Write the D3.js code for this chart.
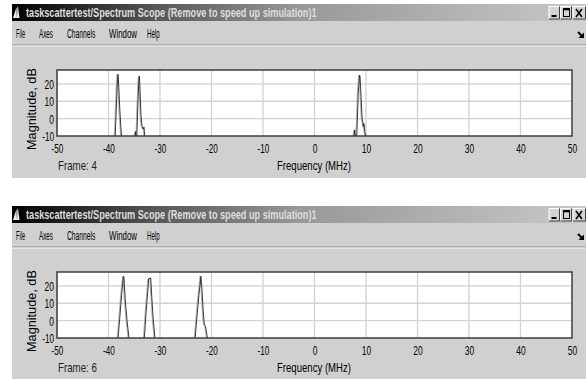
<!DOCTYPE html>
<html><head><meta charset="utf-8">
<script src="https://cdn.jsdelivr.net/npm/d3@7"></script>
<style>html,body{margin:0;padding:0;background:#fff;overflow:hidden}</style>
</head><body><svg id="c" width="586" height="379"></svg>
<script>
// ---------------- data ----------------
const windowTitle = "taskscattertest/Spectrum Scope (Remove to speed up simulation)1";
const menuItems = ["File", "Axes", "Channels", "Window", "Help"];
const freqTicks = [-50, -40, -30, -20, -10, 0, 10, 20, 30, 40, 50];
const magTicks = [-10, 0, 10, 20];
const xLabel = "Frequency (MHz)";
const yLabel = "Magnitude, dB";
const frameLabels = ["Frame: 4", "Frame: 6"];

const frame4Freq = [-50, -38.8, -38.7, -38.5, -38.3, -38.15, -38.0, -37.8, -37.6, -37.45, -37.3,
  -35.0, -34.85, -34.75, -34.65, -34.5, -34.3, -34.1, -34.0, -33.85, -33.7, -33.55, -33.45, -33.25, -33.1, -32.95, -32.8,
  7.5, 7.65, 7.8, 7.95, 8.2, 8.5, 8.75, 8.85, 9.05, 9.25, 9.4, 9.5, 9.6, 9.8, 10.0, 10.1, 50];
const frame4Mag = [-30, -30, -10.5, 5, 20, 25.5, 18, 5, -5, -10.5, -30,
  -30, -10.5, -7.5, -10.5, -10.5, 8, 22, 24.5, 15, 2, -3, -4.5, -6, -5, -10.5, -30,
  -30, -10.5, -6.5, -10.5, -10.5, 15, 25, 24, 12, 0, -2, -4.5, -3, -8, -10.5, -30, -30];

const frame6Freq = [-50, -38.3, -38.15, -37.8, -37.45, -37.1, -37.0, -36.75, -36.4, -36.0, -35.85,
  -33.2, -33.05, -32.7, -32.4, -32.2, -31.8, -31.6, -31.35, -30.97, -30.8,
  -23.4, -23.2, -22.8, -22.45, -22.05, -21.85, -21.6, -21.4, -21.15, -20.9, -20.8, -20.6, 50];
const frame6Mag = [-30, -30, -10.5, 2, 15, 25.5, 25, 12, 0, -10.5, -30,
  -30, -10.5, 5, 16, 24, 24.5, 14, 2, -10.5, -30,
  -30, -10.5, 3, 14.5, 25.5, 18, 5, -2, -3.5, -8, -10.5, -30, -30];

// ---------------- layout ----------------
const winOffsets = [0, 202];
const plot = {x0: 57, x1: 572, y0: 70, y1: 136};
const menuX = [16, 39, 67, 109, 147];
const menuW = [9, 14, 28.3, 28, 12.6];
const FONT = "'Liberation Sans', Arial, sans-serif";

const svg = d3.select('#c');
const defs = svg.append('defs');
const grad = defs.append('linearGradient').attr('id', 'tb')
  .attr('x1', 0).attr('x2', 1).attr('y1', 0).attr('y2', 0);
[[0, '#000000'], [0.25, '#575757'], [0.5, '#989898'], [1, '#c8c8c8']]
  .forEach(([o, c]) => grad.append('stop').attr('offset', o).attr('stop-color', c));

function numWidth(s) {
  let w = 0;
  for (const ch of s) w += (ch === '-') ? 2.4 : 4.7;
  return w;
}
// place a text at (x, y) (baseline-left), squeezed horizontally to width w
function squeezed(parent, str, x, y, w, size, opts = {}) {
  const t = parent.append('text').text(str)
    .attr('text-anchor', 'start')
    .attr('font-family', FONT).attr('font-size', size)
    .attr('fill', opts.fill || '#000')
    .attr('font-weight', opts.weight || 'normal');
  const nat = t.node().getComputedTextLength() || w;
  const sx = w / nat;
  const rot = opts.rotate ? ` rotate(${opts.rotate})` : '';
  t.attr('transform', `translate(${x},${y})${rot} scale(${sx},1)`);
  return t;
}

const x = d3.scaleLinear().domain([-50, 50]).range([plot.x0, plot.x1]);
const y = d3.scaleLinear().domain([-10, 28]).range([plot.y1, plot.y0]);

const frames = [
  {freq: frame4Freq, mag: frame4Mag, label: frameLabels[0]},
  {freq: frame6Freq, mag: frame6Mag, label: frameLabels[1]}
];

frames.forEach((f, i) => {
  const g = svg.append('g').attr('transform', `translate(0,${winOffsets[i]})`);
  // window body
  g.append('rect').attr('x', 12).attr('y', 4).attr('width', 574).attr('height', 174).attr('fill', '#d0d0d0');
  // title bar
  g.append('rect').attr('x', 12).attr('y', 4).attr('width', 574).attr('height', 17).attr('fill', 'url(#tb)');
  g.append('path').attr('d', 'M13,18 L15.5,10 L18,6.5 L19.5,18 Z').attr('fill', '#e8e8e8');
  g.append('path').attr('d', 'M15.5,10 L18,6.5 L17,18 Z').attr('fill', '#9a9a9a');
  squeezed(g, windowTitle, 26, 17, 291, 12.5, {fill: '#dedede', weight: 'bold'});
  // window buttons
  const btnX = [549, 560.5, 573];
  const btnW = [10.5, 11, 12.5];
  btnX.forEach((bx, k) => {
    const bw = btnW[k];
    g.append('rect').attr('x', bx).attr('y', 6.5).attr('width', bw).attr('height', 12.5).attr('fill', '#d4d4d4');
    g.append('path').attr('d', `M${bx},${19} L${bx},${6.5} L${bx + bw},${6.5}`).attr('fill', 'none').attr('stroke', '#fff').attr('stroke-width', 1);
    g.append('path').attr('d', `M${bx},${19} L${bx + bw},${19} L${bx + bw},${6.5}`).attr('fill', 'none').attr('stroke', '#404040').attr('stroke-width', 1);
    if (k === 0) {
      g.append('rect').attr('x', bx + 2.5).attr('y', 15).attr('width', 5).attr('height', 2).attr('fill', '#000');
    } else if (k === 1) {
      g.append('rect').attr('x', bx + 3).attr('y', 8.5).attr('width', 6).attr('height', 8)
        .attr('fill', 'none').attr('stroke', '#000').attr('stroke-width', 1);
      g.append('rect').attr('x', bx + 3).attr('y', 8.5).attr('width', 6).attr('height', 1.8).attr('fill', '#000');
    } else {
      g.append('path').attr('d', `M${bx + 3},9 L${bx + 9},17 M${bx + 9},9 L${bx + 3},17`)
        .attr('stroke', '#000').attr('stroke-width', 1.6);
    }
  });
  // menu
  menuItems.forEach((m, k) => squeezed(g, m, menuX[k], 38, menuW[k], 12));
  g.append('path').attr('d', 'M578,32 L582.5,36.5').attr('stroke', '#000').attr('stroke-width', 2);
  g.append('path').attr('d', 'M584,38 L578.5,38 L584,32.5 Z').attr('fill', '#000');
  g.append('line').attr('x1', 12).attr('x2', 586).attr('y1', 45).attr('y2', 45).attr('stroke', '#8c8c8c').attr('stroke-width', 1);
  g.append('line').attr('x1', 12).attr('x2', 586).attr('y1', 46).attr('y2', 46).attr('stroke', '#f4f4f4').attr('stroke-width', 1);

  // plot area
  g.append('rect').attr('x', plot.x0).attr('y', plot.y0).attr('width', plot.x1 - plot.x0)
    .attr('height', plot.y1 - plot.y0).attr('fill', '#fff');
  // grid
  g.append('g').selectAll('line.v').data(freqTicks.slice(1, -1)).join('line')
    .attr('x1', d => x(d)).attr('x2', d => x(d)).attr('y1', plot.y0).attr('y2', plot.y1)
    .attr('stroke', '#d2d2d2').attr('stroke-width', 1.3);
  g.append('g').selectAll('line.h').data(magTicks.slice(1)).join('line')
    .attr('x1', plot.x0).attr('x2', plot.x1).attr('y1', d => y(d)).attr('y2', d => y(d))
    .attr('stroke', '#d2d2d2').attr('stroke-width', 1.3);

  // trace
  const cid = 'clip' + i;
  defs.append('clipPath').attr('id', cid).append('rect')
    .attr('x', plot.x0).attr('y', plot.y0).attr('width', plot.x1 - plot.x0).attr('height', plot.y1 - plot.y0);
  const pts = f.freq.map((v, k) => [v, f.mag[k]]);
  const line = d3.line().x(d => x(d[0])).y(d => y(d[1]));
  g.append('path').datum(pts).attr('d', line).attr('clip-path', `url(#${cid})`)
    .attr('fill', 'none').attr('stroke', '#a8a8a8').attr('stroke-width', 0.9).attr('transform', 'translate(-0.9,0)');
  g.append('path').datum(pts).attr('d', line).attr('clip-path', `url(#${cid})`)
    .attr('fill', 'none').attr('stroke', '#222').attr('stroke-width', 0.9);

  // border
  g.append('rect').attr('x', plot.x0).attr('y', plot.y0).attr('width', plot.x1 - plot.x0)
    .attr('height', plot.y1 - plot.y0).attr('fill', 'none').attr('stroke', '#3c3c3c').attr('stroke-width', 1.5);

  // x axis
  const xa = g.append('g').attr('transform', `translate(0,${plot.y1})`)
    .call(d3.axisBottom(x).tickValues(freqTicks).tickSize(0).tickFormat(d => String(d)));
  xa.select('.domain').remove();
  xa.selectAll('.tick').each(function(d) {
    const tk = d3.select(this);
    tk.select('text').remove();
    const s = String(d), w = numWidth(s);
    squeezed(tk, s, -w / 2, 16.5, w, 12.5);
  });

  // y axis
  const ya = g.append('g').attr('transform', `translate(${plot.x0 - 3},0)`)
    .call(d3.axisLeft(y).tickValues(magTicks).tickSize(0).tickFormat(d => String(d)));
  ya.select('.domain').remove();
  ya.selectAll('.tick').each(function(d) {
    const tk = d3.select(this);
    tk.select('text').remove();
    const s = String(d), w = numWidth(s);
    squeezed(tk, s, -w, 4.5, w, 12.5);
  });

  // labels
  squeezed(g, xLabel, 314 - 37, 170, 74, 12.5);
  squeezed(g, f.label, 58, 170, 39, 12.5, {fill: '#222'});
  squeezed(g, yLabel, 36, 150, 82, 13, {rotate: -90});
});
</script>
</body></html>
